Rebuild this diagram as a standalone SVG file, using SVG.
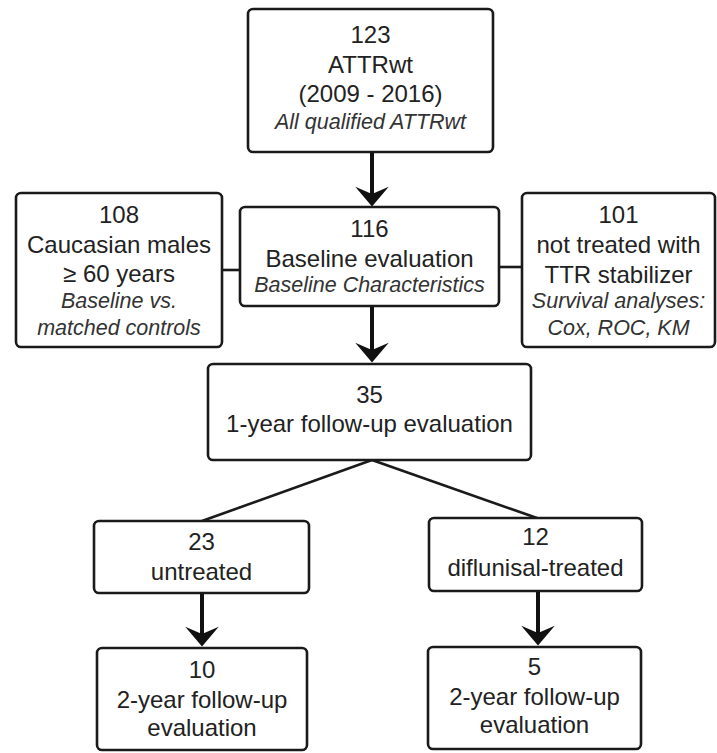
<svg xmlns="http://www.w3.org/2000/svg" width="717" height="753" viewBox="0 0 717 753">
<style>
  .box { fill: #ffffff; stroke: #1a1a1a; stroke-width: 2.6; }
  .t { font-family: "Liberation Sans", Arial, sans-serif; font-size: 24px; fill: #222222; text-anchor: middle; }
  .i { font-family: "Liberation Sans", Arial, sans-serif; font-size: 21.5px; font-style: italic; fill: #333333; text-anchor: middle; }
  .ln { stroke: #1a1a1a; stroke-width: 2.6; fill: none; }
  .ar { stroke: #111111; stroke-width: 4; fill: none; }
</style>
<defs>
  <marker id="ah" markerUnits="userSpaceOnUse" markerWidth="22" markerHeight="36" viewBox="-20 -17 21 34" refX="-12" refY="0" orient="auto">
    <path d="M -19 -16 L 0 0 L -19 16 L -12 0 Z" fill="#111111"/>
  </marker>
</defs>
<rect width="717" height="753" fill="#ffffff"/>

<g id="connectors">
  <line class="ar" x1="372" y1="152" x2="372" y2="194" marker-end="url(#ah)"/>
  <line class="ar" x1="372" y1="306" x2="372" y2="350" marker-end="url(#ah)"/>
  <line class="ar" x1="202" y1="593" x2="202" y2="634" marker-end="url(#ah)"/>
  <line class="ar" x1="538" y1="591" x2="538" y2="633" marker-end="url(#ah)"/>
  <line class="ln" x1="222" y1="270" x2="240" y2="270"/>
  <line class="ln" x1="499" y1="267" x2="522" y2="267"/>
  <line class="ln" x1="372" y1="460" x2="202" y2="521"/>
  <line class="ln" x1="372" y1="460" x2="537" y2="518"/>
</g>

<g id="n_all">
  <rect class="box" x="248" y="9" width="245" height="143" rx="5"/>
  <text class="t" x="370.5" y="43">123</text>
  <text class="t" x="370.5" y="73">ATTRwt</text>
  <text class="t" x="370.5" y="102">(2009 - 2016)</text>
  <text class="i" x="370.5" y="129">All qualified ATTRwt</text>
</g>

<g id="n_caucasian">
  <rect class="box" x="16" y="193" width="206" height="154" rx="5"/>
  <text class="t" x="119" y="223">108</text>
  <text class="t" x="119" y="253">Caucasian males</text>
  <text class="t" x="119" y="282">≥ 60 years</text>
  <text class="i" x="119" y="308">Baseline vs.</text>
  <text class="i" x="119" y="335">matched controls</text>
</g>

<g id="n_baseline">
  <rect class="box" x="240" y="207" width="259" height="99" rx="5"/>
  <text class="t" x="369.5" y="237">116</text>
  <text class="t" x="369.5" y="267">Baseline evaluation</text>
  <text class="i" x="369.5" y="292">Baseline Characteristics</text>
</g>

<g id="n_nottreated">
  <rect class="box" x="522" y="193" width="193" height="154" rx="5"/>
  <text class="t" x="618.5" y="223">101</text>
  <text class="t" x="618.5" y="253">not treated with</text>
  <text class="t" x="618.5" y="283">TTR stabilizer</text>
  <text class="i" x="618.5" y="308">Survival analyses:</text>
  <text class="i" x="618.5" y="335">Cox, ROC, KM</text>
</g>

<g id="n_1year">
  <rect class="box" x="208" y="364" width="323" height="96" rx="5"/>
  <text class="t" x="369.5" y="403">35</text>
  <text class="t" x="369.5" y="432">1-year follow-up evaluation</text>
</g>

<g id="n_untreated">
  <rect class="box" x="94" y="521" width="215" height="72" rx="5"/>
  <text class="t" x="201.5" y="550">23</text>
  <text class="t" x="201.5" y="580">untreated</text>
</g>

<g id="n_diflunisal">
  <rect class="box" x="429" y="518" width="213" height="73" rx="5"/>
  <text class="t" x="535.5" y="545">12</text>
  <text class="t" x="535.5" y="576">diflunisal-treated</text>
</g>

<g id="n_2year_untreated">
  <rect class="box" x="97" y="648" width="210" height="102" rx="5"/>
  <text class="t" x="202" y="678">10</text>
  <text class="t" x="202" y="708">2-year follow-up</text>
  <text class="t" x="202" y="736">evaluation</text>
</g>

<g id="n_2year_diflunisal">
  <rect class="box" x="428" y="647" width="213" height="102" rx="5"/>
  <text class="t" x="534.5" y="675">5</text>
  <text class="t" x="534.5" y="705">2-year follow-up</text>
  <text class="t" x="534.5" y="733">evaluation</text>
</g>
</svg>
